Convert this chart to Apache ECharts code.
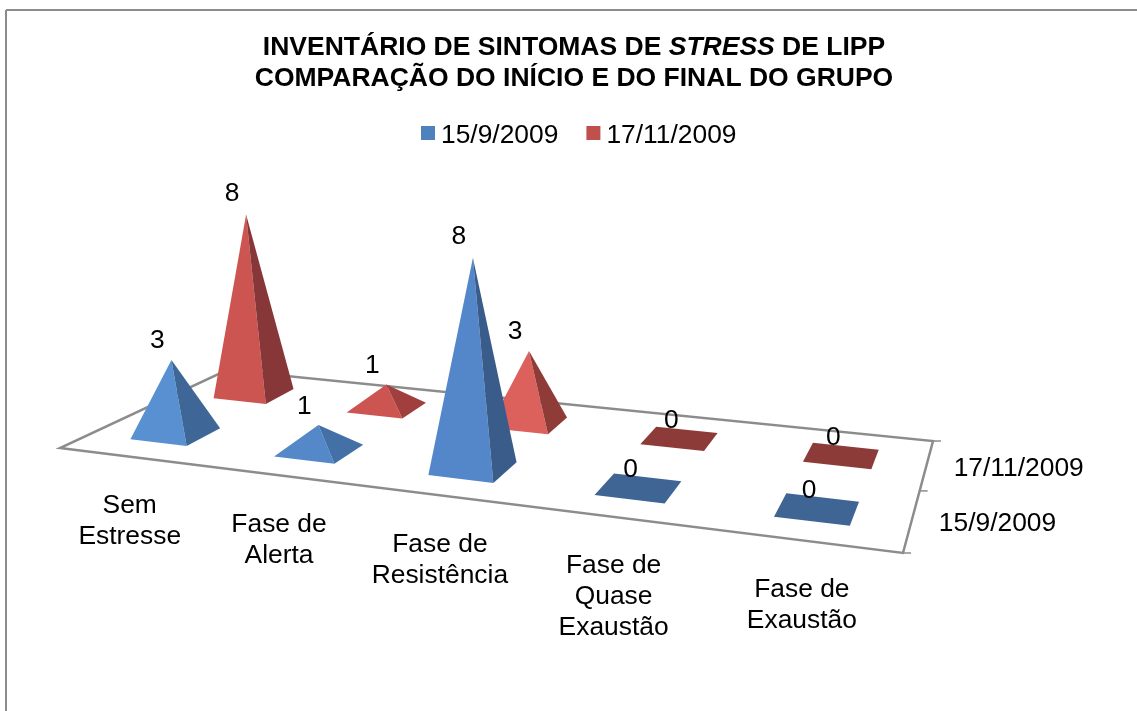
<!DOCTYPE html>
<html>
<head>
<meta charset="utf-8">
<title>Inventário de sintomas de stress de Lipp</title>
<script src="https://cdn.jsdelivr.net/npm/echarts@6/dist/echarts.min.js"></script>
<style>
html, body { margin: 0; padding: 0; background: #fff; }
#main { width: 1137px; height: 711px; }
</style>
</head>
<body>
<div id="main"></div>
<script>
var categories = ['Sem\nEstresse', 'Fase de\nAlerta', 'Fase de\nResistência', 'Fase de\nQuase\nExaustão', 'Fase de\nExaustão'];
var dateFirst = '15/9/2009';
var dateLast = '17/11/2009';
var valuesFirst = [3, 1, 8, 0, 0];
var valuesLast = [8, 1, 3, 0, 0];

var FONT = '"Liberation Sans", Arial, sans-serif';
var GRID = { left: 0, top: 0, width: 1000, height: 203 }; // hidden, only gives the scales
var AXIS_COLOR = '#8c8c8c';
var BAR_HALF = 0.2; // half of the base, in category units

// floor homography, unit square -> screen (corners 60,448 903,553 933,441 227,370)
function solveFloor(p0, p1, p2, p3) {
    var dx1 = p1[0] - p2[0], dx2 = p3[0] - p2[0], sx = p0[0] - p1[0] + p2[0] - p3[0];
    var dy1 = p1[1] - p2[1], dy2 = p3[1] - p2[1], sy = p0[1] - p1[1] + p2[1] - p3[1];
    var det = dx1 * dy2 - dx2 * dy1;
    var g = (sx * dy2 - dx2 * sy) / det;
    var h = (dx1 * sy - sx * dy1) / det;
    return {
        a: p1[0] - p0[0] + g * p1[0], b: p3[0] - p0[0] + h * p3[0], c: p0[0],
        d: p1[1] - p0[1] + g * p1[1], e: p3[1] - p0[1] + h * p3[1], f: p0[1],
        g: g, h: h
    };
}
var M = solveFloor([60, 448], [903, 553], [933, 441], [227, 370]);

// u: 0..5 along the categories, v: 0..2 front to back, lift: pixels above the floor
function project(u, v, lift) {
    var x = u / 5, y = v / 2;
    var w = 1 + M.g * x + M.h * y;
    var sx = (M.a * x + M.b * y + M.c) / w;
    var sy = (M.d * x + M.e * y + M.f) / w;
    var up = (lift || 0) / w;
    return [sx + (sx - 476) * up * 0.0002, sy - up];
}

var FACES = {
    first: { 1: ['#5488c8', '#4370a6'], 3: ['#5890d2', '#3e6797'], 8: ['#5487c9', '#3a5c8a'], flat: '#3e6594' },
    last: { 1: ['#cc5552', '#a03f3d'], 3: ['#dc615d', '#8f3b38'], 8: ['#cc5451', '#873737'], flat: '#8d3b39' }
};

function textEl(text, x, y, align, valign) {
    return {
        type: 'text',
        style: {
            text: text, x: x, y: y, fill: '#000',
            fontFamily: FONT, fontSize: 26.4, lineHeight: 31,
            align: align || 'center', verticalAlign: valign || 'middle'
        }
    };
}

function polyEl(points, color) {
    return { type: 'polygon', shape: { points: points }, style: { fill: color } };
}

function pyramidRender(depth, faces) {
    return function (params, api) {
        var value = api.value(1);
        var c = api.coord([api.value(0), value]);
        var u = (c[0] - GRID.left) / GRID.width * 5;
        var lift = GRID.top + GRID.height - c[1];
        var h = BAR_HALF;
        var left = project(u - h, depth - h);
        var front = project(u + h, depth - h);
        var right = project(u + h, depth + h);
        var back = project(u - h, depth + h);
        var children = [];
        var top;
        if (value === 0) {
            top = project(u, depth);
            children.push(polyEl([left, front, right, back], faces.flat));
            children.push(textEl(String(value), top[0] - 8, top[1] - 18));
        } else {
            top = project(u, depth, lift);
            children.push(polyEl([left, front, top], faces[value][0]));
            children.push(polyEl([front, right, top], faces[value][1]));
            children.push(textEl(String(value), top[0] - 14, top[1] - 18 - lift / 70));
        }
        return { type: 'group', children: children };
    };
}

function floorRender() {
    var floor = [project(0, 0), project(5, 0), project(5, 2), project(0, 2)];
    var children = [{
        type: 'polygon',
        shape: { points: floor },
        style: { fill: '#fff', stroke: AXIS_COLOR, lineWidth: 2.5 }
    }];
    [0, 1, 2].forEach(function (v) {
        var p = project(5, v);
        children.push({
            type: 'line',
            shape: { x1: p[0], y1: p[1], x2: p[0] + 8, y2: p[1] },
            style: { stroke: AXIS_COLOR, lineWidth: 1.5 }
        });
    });
    return { type: 'group', children: children };
}

function categoryRender(params, api) {
    var c = api.coord([api.value(0), 0]);
    var u = (c[0] - GRID.left) / GRID.width * 5;
    var p = project(u, 0);
    return textEl(categories[params.dataIndex], p[0] - 1, p[1] + 33.5, 'center', 'top');
}

function depthRender(params) {
    var p = project(5, params.dataIndex + 0.5);
    return textEl(params.dataIndex === 0 ? dateFirst : dateLast, p[0] + 27, p[1] + 4, 'left', 'middle');
}

function indexed(values) {
    return values.map(function (v, i) { return [i, v]; });
}

var helper = { type: 'custom', silent: true, coordinateSystem: 'cartesian2d', encode: { x: 0, y: 1 } };

var myChart = echarts.init(document.getElementById('main'));
myChart.setOption({
    animation: false,
    backgroundColor: '#fff',
    title: {
        left: 569,
        top: 27,
        textAlign: 'center',
        text: '{b|INVENTÁRIO DE SINTOMAS DE }{i|STRESS}{b| DE LIPP}\n{b|COMPARAÇÃO DO INÍCIO E DO FINAL DO GRUPO}',
        textStyle: {
            rich: {
                b: { fontFamily: FONT, fontSize: 26.5, fontWeight: 'bold', color: '#000', lineHeight: 31 },
                i: { fontFamily: FONT, fontSize: 26.5, fontWeight: 'bold', fontStyle: 'italic', color: '#000', lineHeight: 31 }
            }
        }
    },
    legend: {
        left: 421,
        top: 123,
        padding: 0,
        itemWidth: 14,
        itemHeight: 14,
        itemGap: 28,
        icon: 'rect',
        selectedMode: false,
        data: [dateFirst, dateLast],
        formatter: '{t|{name}}',
        textStyle: {
            rich: { t: { fontFamily: FONT, fontSize: 26.4, color: '#000', padding: [6, 0, 0, 1] } }
        }
    },
    grid: GRID,
    xAxis: { type: 'category', data: categories, show: false },
    yAxis: { type: 'value', min: 0, max: 8, show: false },
    graphic: [
        { type: 'line', silent: true, shape: { x1: 6, y1: 10, x2: 1137, y2: 10 }, style: { stroke: AXIS_COLOR, lineWidth: 2 } },
        { type: 'line', silent: true, shape: { x1: 6, y1: 10, x2: 6, y2: 711 }, style: { stroke: AXIS_COLOR, lineWidth: 2 } }
    ],
    series: [
        Object.assign({}, helper, { name: 'piso', data: [[0, 0]], renderItem: floorRender }),
        Object.assign({}, helper, { name: 'categorias', data: indexed(valuesFirst), renderItem: categoryRender }),
        Object.assign({}, helper, { name: 'datas', data: [[0, 0], [1, 0]], renderItem: depthRender }),
        {
            type: 'custom', name: dateLast, coordinateSystem: 'cartesian2d', encode: { x: 0, y: 1 },
            itemStyle: { color: '#c0504d' }, data: indexed(valuesLast), renderItem: pyramidRender(1.5, FACES.last)
        },
        {
            type: 'custom', name: dateFirst, coordinateSystem: 'cartesian2d', encode: { x: 0, y: 1 },
            itemStyle: { color: '#4f81bd' }, data: indexed(valuesFirst), renderItem: pyramidRender(0.5, FACES.first)
        }
    ]
});
</script>
</body>
</html>
